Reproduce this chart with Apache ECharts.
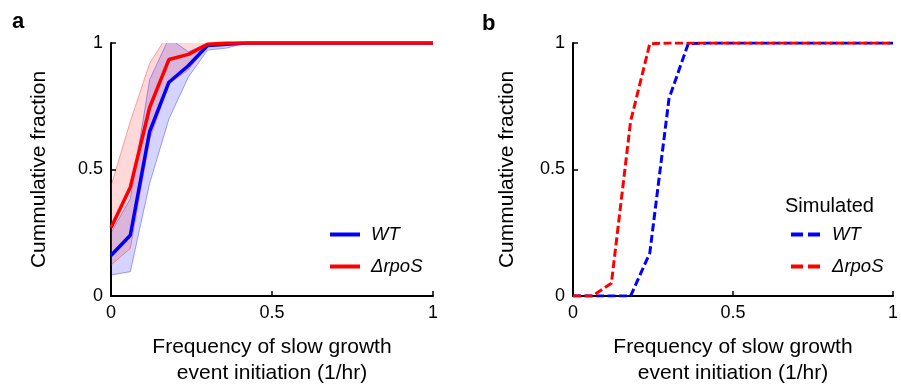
<!DOCTYPE html>
<html>
<head>
<meta charset="utf-8">
<script src="https://cdn.jsdelivr.net/npm/echarts@6/dist/echarts.min.js"></script>
<style>html,body{margin:0;padding:0;background:#fff;}#c{width:901px;height:392px;}</style>
</head>
<body>
<div id="c"></div>
<script>
// x positions (1/hr)
var xs = [0, 0.06, 0.12, 0.18, 0.24, 0.30, 0.36, 0.42, 0.48, 0.54, 0.60, 0.66, 0.72, 0.78, 0.84, 0.90, 0.96, 1.0];
// panel a: measured
var wtMean   = [0.16, 0.24, 0.65, 0.845, 0.91, 0.99, 0.995, 1, 1, 1, 1, 1, 1, 1, 1, 1, 1, 1];
var wtUpper  = [0.25, 0.385, 0.855, 1.02, 0.965, 1.0, 1, 1, 1, 1, 1, 1, 1, 1, 1, 1, 1, 1];
var wtLower  = [0.083, 0.096, 0.445, 0.70, 0.865, 0.972, 0.98, 1, 1, 1, 1, 1, 1, 1, 1, 1, 1, 1];
var rpoMean  = [0.27, 0.43, 0.745, 0.935, 0.955, 0.995, 1, 1, 1, 1, 1, 1, 1, 1, 1, 1, 1, 1];
var rpoUpper = [0.435, 0.69, 0.92, 1.04, 1.02, 1.0, 1, 1, 1, 1, 1, 1, 1, 1, 1, 1, 1, 1];
var rpoLower = [0.122, 0.188, 0.617, 0.84, 0.893, 0.99, 1, 1, 1, 1, 1, 1, 1, 1, 1, 1, 1, 1];
// panel b: simulated
var wtSim  = [0, 0, 0, 0, 0.17, 0.78, 0.997, 1, 1, 1, 1, 1, 1, 1, 1, 1, 1, 1];
var rpoSim = [0, 0, 0.05, 0.69, 0.997, 1, 1, 1, 1, 1, 1, 1, 1, 1, 1, 1, 1, 1];
var tickVals = [0, 0.5, 1];
var xTitle = 'Frequency of slow growth\nevent initiation (1/hr)';
var yTitle = 'Cummulative fraction';

var FONT = '"Liberation Sans", Arial, Helvetica, sans-serif';
function pairs(v) { return xs.map(function (x, i) { return [x, v[i]]; }); }
function fmtTick(v) { return tickVals.indexOf(v) >= 0 ? String(v) : ''; }

function xAxisCfg(gi) {
  return {
    gridIndex: gi, type: 'value', min: 0, max: 1, interval: 0.5,
    name: xTitle, nameLocation: 'middle', nameGap: 38,
    nameTextStyle: { fontFamily: FONT, fontSize: 21, color: '#000', lineHeight: 26 },
    axisLine: { show: true, onZero: false, lineStyle: { color: '#000', width: 2 } },
    axisTick: { show: true, inside: true, length: 5, lineStyle: { color: '#000', width: 1.5 } },
    axisLabel: { fontFamily: FONT, fontSize: 18, color: '#000', margin: 8, formatter: fmtTick },
    splitLine: { show: false }
  };
}
function yAxisCfg(gi, gap) {
  return {
    gridIndex: gi, type: 'value', min: 0, max: 1, interval: 0.5,
    name: yTitle, nameLocation: 'middle', nameGap: gap, nameRotate: 90,
    nameTextStyle: { fontFamily: FONT, fontSize: 21, color: '#000' },
    axisLine: { show: true, onZero: false, lineStyle: { color: '#000', width: 2 } },
    axisTick: { show: true, inside: true, length: 5, lineStyle: { color: '#000', width: 1.5 } },
    axisLabel: { fontFamily: FONT, fontSize: 18, color: '#000', margin: 8, formatter: fmtTick },
    splitLine: { show: false }
  };
}
// shaded band drawn as one polygon through the axis scales
function band(name, lower, upper, rgb, alpha) {
  return {
    name: name, type: 'custom', xAxisIndex: 0, yAxisIndex: 0, silent: true, z: 1, clip: true,
    data: [[0, 0]],
    renderItem: function (params, api) {
      var pts = [], i;
      for (i = 0; i < xs.length; i++) pts.push(api.coord([xs[i], upper[i]]));
      for (i = xs.length - 1; i >= 0; i--) pts.push(api.coord([xs[i], lower[i]]));
      var cs = params.coordSys;
      return {
        type: 'polygon',
        shape: { points: pts },
        style: { fill: 'rgba(' + rgb + ',' + alpha + ')', stroke: 'rgba(' + rgb + ',0.35)', lineWidth: 1 },
        clipPath: { type: 'rect', shape: { x: cs.x, y: cs.y, width: cs.width, height: cs.height } }
      };
    }
  };
}

var series = [
  band('wtBand', wtLower, wtUpper, '0,0,255', 0.17),
  band('rpoBand', rpoLower, rpoUpper, '255,0,0', 0.15),
  { name: 'WT', type: 'line', xAxisIndex: 0, yAxisIndex: 0, symbol: 'none', data: pairs(wtMean),
    lineStyle: { color: '#0000ff', width: 3.5 }, itemStyle: { color: '#0000ff' }, z: 3 },
  { name: 'ΔrpoS', type: 'line', xAxisIndex: 0, yAxisIndex: 0, symbol: 'none', data: pairs(rpoMean),
    lineStyle: { color: '#ff0000', width: 3.5 }, itemStyle: { color: '#ff0000' }, z: 4 },
  { name: 'WT sim', type: 'line', xAxisIndex: 1, yAxisIndex: 1, symbol: 'none', data: pairs(wtSim),
    lineStyle: { color: '#0000ff', width: 3, type: [8, 3.5] }, itemStyle: { color: '#0000ff' }, z: 3 },
  { name: 'ΔrpoS sim', type: 'line', xAxisIndex: 1, yAxisIndex: 1, symbol: 'none', data: pairs(rpoSim),
    lineStyle: { color: '#ff0000', width: 3, type: [8, 3.5] }, itemStyle: { color: '#ff0000' }, z: 4 }
];

var legendText = { fontFamily: FONT, fontSize: 18.5, fontStyle: 'italic', color: '#000', padding: [0, 0, 0, 6] };
var hideSym = { opacity: 0 };
var option = {
  animation: false,
  backgroundColor: '#fff',
  title: [
    { text: 'a', left: 12, top: 11, padding: 0, textStyle: { fontFamily: FONT, fontSize: 22, fontWeight: 'bold', color: '#000' } },
    { text: 'b', left: 482, top: 13, padding: 0, textStyle: { fontFamily: FONT, fontSize: 22, fontWeight: 'bold', color: '#000' } },
    { text: 'Simulated', left: 785, top: 196, padding: 0, textStyle: { fontFamily: FONT, fontSize: 20, fontWeight: 'normal', color: '#000' } }
  ],
  grid: [
    { left: 111, top: 43, width: 322, height: 253 },
    { left: 573, top: 43, width: 322, height: 253 }
  ],
  xAxis: [xAxisCfg(0), xAxisCfg(1)],
  yAxis: [yAxisCfg(0, 61), yAxisCfg(1, 55)],
  legend: [
    { left: 328, top: 225, orient: 'vertical', padding: 0, itemWidth: 30, itemHeight: 14, itemGap: 13,
      selectedMode: false, textStyle: legendText,
      data: [{ name: 'WT', lineStyle: { width: 4 }, itemStyle: hideSym },
             { name: 'ΔrpoS', lineStyle: { width: 4 }, itemStyle: hideSym }] },
    { left: 789, top: 225, orient: 'vertical', padding: 0, itemWidth: 30, itemHeight: 14, itemGap: 13,
      selectedMode: false, textStyle: legendText,
      formatter: function (n) { return n.replace(' sim', ''); },
      data: [{ name: 'WT sim', lineStyle: { width: 4, type: [12, 5] }, itemStyle: hideSym },
             { name: 'ΔrpoS sim', lineStyle: { width: 4, type: [12, 5] }, itemStyle: hideSym }] }
  ],
  series: series
};
var chart = echarts.init(document.getElementById('c'), null, { renderer: 'canvas' });
chart.setOption(option);
</script>
</body>
</html>
